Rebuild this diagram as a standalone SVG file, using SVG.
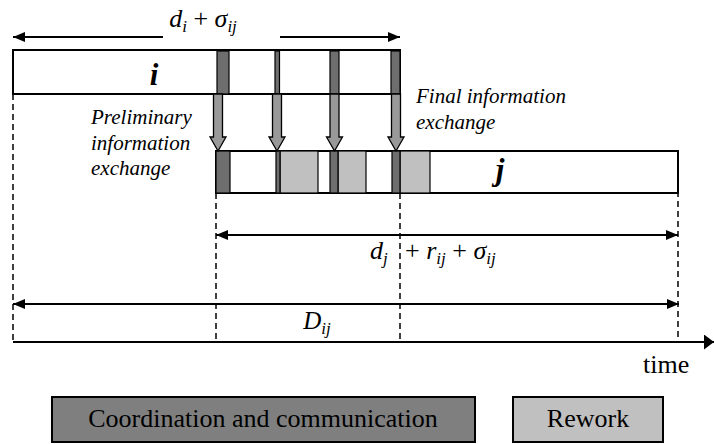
<svg xmlns="http://www.w3.org/2000/svg" width="714" height="444" viewBox="0 0 714 444">
<style>
text{font-family:"Liberation Serif","Times New Roman",serif;fill:#000}
.lbl{font-style:italic;font-size:21px}
.math{font-style:italic;font-size:26px}
.sub{font-size:17px}
.up{font-style:normal}
.bar{fill:#fff;stroke:#000;stroke-width:2}
.dk{fill:#6e6e6e;stroke:#000;stroke-width:1.2}
.lt{fill:#c0c0c0;stroke:#000;stroke-width:1.2}
.dash{stroke:#000;stroke-width:1.5;stroke-dasharray:6,4;fill:none}
.ln{stroke:#000;stroke-width:2;fill:none}
.xa{fill:#999;stroke:#000;stroke-width:1.3}
</style>
<defs>
<marker id="ah" viewBox="0 0 12 10" refX="12" refY="5" markerWidth="12" markerHeight="10" markerUnits="userSpaceOnUse" orient="auto-start-reverse"><path d="M0,0 L12,5 L0,10 z" fill="#000"/></marker>
<marker id="ax" viewBox="0 0 10 15" refX="10" refY="7.5" markerWidth="10" markerHeight="15" markerUnits="userSpaceOnUse" orient="auto"><path d="M0,0 L10,7.5 L0,15 z" fill="#000"/></marker>
</defs>
<g id="guides">
<line class="dash" x1="13" y1="94" x2="13" y2="342"/>
<line class="dash" x1="216" y1="193" x2="216" y2="342"/>
<line class="dash" x1="400" y1="193" x2="400" y2="342"/>
<line class="dash" x1="678" y1="151" x2="678" y2="342"/>
</g>
<g id="task-i">
<rect class="bar" x="13" y="50" width="387" height="44"/>
<rect class="dk" x="217" y="51" width="12" height="43"/>
<rect class="dk" x="275" y="51" width="4.5" height="43"/>
<rect class="dk" x="330" y="51" width="9" height="43"/>
<rect class="dk" x="391" y="51" width="9" height="43"/>
<text x="154" y="85" text-anchor="middle" style="font-size:31px;font-weight:bold;font-style:italic">i</text>
</g>
<g id="task-j">
<rect class="bar" x="216" y="151" width="462" height="42"/>
<rect class="dk" x="216" y="151" width="14" height="42"/>
<rect class="lt" x="280" y="151" width="38" height="42"/>
<rect class="dk" x="276" y="151" width="4" height="42"/>
<rect class="lt" x="338" y="151" width="28" height="42"/>
<rect class="dk" x="330" y="151" width="8" height="42"/>
<rect class="lt" x="400" y="151" width="30" height="42"/>
<rect class="dk" x="392" y="151" width="8" height="42"/>
<line x1="678" y1="151" x2="678" y2="193" stroke="#000" stroke-width="2"/>
<text x="500" y="180" text-anchor="middle" style="font-size:31px;font-weight:bold;font-style:italic">j</text>
</g>
<g id="exchanges">
<polygon class="xa" points="213.5,94 222.5,94 222.5,137 226,137 218,151 210,137 213.5,137"/>
<polygon class="xa" points="272.5,94 281.5,94 281.5,137 285,137 277,151 269,137 272.5,137"/>
<polygon class="xa" points="330,94 339,94 339,137 342.5,137 334.5,151 326.5,137 330,137"/>
<polygon class="xa" points="391.5,94 400.5,94 400.5,137 404,137 396,151 388,137 391.5,137"/>
</g>
<g id="connectors">
<line class="ln" x1="163" y1="37" x2="13" y2="37" marker-end="url(#ah)"/>
<line class="ln" x1="280" y1="37" x2="400" y2="37" marker-end="url(#ah)"/>
<line class="ln" x1="216" y1="235" x2="678" y2="235" marker-start="url(#ah)" marker-end="url(#ah)"/>
<line class="ln" x1="13" y1="304" x2="679" y2="304" marker-start="url(#ah)" marker-end="url(#ah)"/>
<line class="ln" x1="13" y1="342" x2="714" y2="342" marker-end="url(#ax)"/>
</g>
<g id="labels">
<text class="math" x="203" y="27" text-anchor="middle">d<tspan class="sub" dy="5">i</tspan><tspan class="up" dy="-5"> + </tspan>σ<tspan class="sub" dy="5">ij</tspan></text>
<text class="math" x="370" y="259">d<tspan class="sub" dy="5">j</tspan><tspan class="up" x="405" dy="-5">+ </tspan>r<tspan class="sub" dy="5">ij</tspan><tspan class="up" dy="-5"> + </tspan>σ<tspan class="sub" dy="5">ij</tspan></text>
<text class="math" x="317" y="329" text-anchor="middle" style="font-size:25px">D<tspan class="sub" dy="5">ij</tspan></text>
<text class="lbl" x="91" y="124">Preliminary</text>
<text class="lbl" x="91" y="150">information</text>
<text class="lbl" x="91" y="175">exchange</text>
<text class="lbl" x="416" y="103">Final information</text>
<text class="lbl" x="416" y="129">exchange</text>
<text x="643" y="373" style="font-size:26px">time</text>
</g>
<g id="legend-coordination">
<rect x="52" y="397" width="423" height="45" fill="#7f7f7f" stroke="#000" stroke-width="2"/>
<text x="263" y="427" text-anchor="middle" style="font-size:26px">Coordination and communication</text>
</g>
<g id="legend-rework">
<rect x="513" y="397" width="150" height="45" fill="#c0c0c0" stroke="#000" stroke-width="2"/>
<text x="588" y="427" text-anchor="middle" style="font-size:26px">Rework</text>
</g>
</svg>
